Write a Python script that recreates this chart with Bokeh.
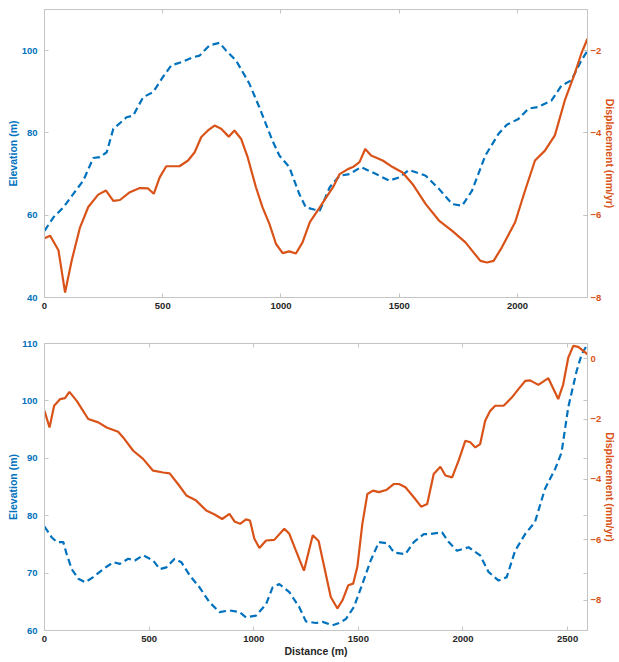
from bokeh.plotting import figure
from bokeh.models import LinearAxis, Range1d, FixedTicker, CustomJSTickFormatter
from bokeh.layouts import column
from bokeh.embed import file_html
from bokeh.resources import INLINE

# ---- Profile 1 -------------------------------------------------------------
p1_elev_x = [0, 38, 80, 122, 164, 206, 234, 263, 291, 347, 375, 417, 459, 501,
             536, 578, 628, 656, 698, 740, 768, 810, 866, 908, 964, 993, 1035,
             1077, 1105, 1140, 1164, 1206, 1248, 1290, 1339, 1402, 1458, 1500,
             1542, 1612, 1668, 1724, 1766, 1808, 1864, 1920, 1955, 2004, 2046,
             2088, 2144, 2186, 2228, 2270, 2296]
p1_elev = [56.2, 59.5, 61.9, 65.2, 68.4, 73.9, 74.1, 75.3, 81.0, 83.8, 84.2,
           88.7, 89.9, 93.6, 96.4, 97.2, 98.4, 98.8, 101.3, 101.9, 100.0, 97.6,
           92.0, 86.3, 78.1, 74.5, 71.7, 65.2, 61.9, 61.4, 61.1, 66.8, 69.6,
           70.0, 71.7, 70.0, 68.4, 69.2, 71.0, 69.6, 66.4, 62.7, 62.3, 66.0,
           74.5, 79.8, 82.0, 83.4, 85.9, 86.3, 87.9, 91.5, 92.8, 97.6, 100.0]

p1_disp_x = [0, 24, 59, 87, 115, 150, 185, 227, 260, 291, 319, 361, 403, 438,
             462, 487, 515, 571, 607, 635, 663, 691, 719, 747, 779, 803, 831,
             859, 894, 922, 951, 979, 1007, 1035, 1063, 1091, 1122, 1164, 1192,
             1220, 1248, 1283, 1304, 1332, 1356, 1381, 1430, 1472, 1514, 1556,
             1612, 1668, 1724, 1780, 1808, 1843, 1871, 1899, 1934, 1990, 2032,
             2074, 2116, 2158, 2200, 2242, 2270, 2296]
p1_disp = [-6.56, -6.50, -6.85, -7.88, -7.10, -6.30, -5.80, -5.50, -5.40, -5.65,
           -5.63, -5.44, -5.34, -5.35, -5.48, -5.08, -4.81, -4.81, -4.67, -4.47,
           -4.10, -3.94, -3.82, -3.90, -4.09, -3.94, -4.14, -4.59, -5.32, -5.81,
           -6.21, -6.70, -6.92, -6.88, -6.93, -6.66, -6.17, -5.81, -5.56, -5.32,
           -5.00, -4.88, -4.83, -4.71, -4.39, -4.55, -4.67, -4.83, -4.96, -5.24,
           -5.73, -6.13, -6.38, -6.66, -6.86, -7.11, -7.15, -7.11, -6.78, -6.17,
           -5.40, -4.67, -4.43, -4.06, -3.21, -2.56, -2.07, -1.71]

# ---- Profile 2 -------------------------------------------------------------
p2_elev_x = [0, 35, 59, 90, 106, 130, 162, 194, 233, 281, 329, 360, 400, 432,
             471, 519, 551, 582, 622, 654, 694, 741, 789, 836, 884, 932, 963,
             1011, 1059, 1090, 1122, 1170, 1217, 1249, 1297, 1329, 1376, 1408,
             1440, 1479, 1519, 1559, 1598, 1638, 1670, 1725, 1765, 1813, 1844,
             1900, 1932, 1971, 2027, 2082, 2122, 2170, 2209, 2249, 2297, 2344,
             2392, 2440, 2471, 2503, 2543, 2567, 2595]
p2_elev = [78.1, 76.2, 75.4, 75.4, 73.3, 70.7, 69.0, 68.4, 69.3, 70.7, 71.9,
           71.6, 72.5, 72.2, 73.1, 72.2, 70.7, 71.0, 72.5, 71.9, 69.6, 67.5,
           64.9, 63.2, 63.5, 63.2, 62.3, 62.6, 64.6, 67.5, 68.1, 66.7, 64.1,
           61.6, 61.3, 61.5, 60.9, 61.3, 62.0, 64.1, 68.1, 72.2, 75.4, 75.2,
           73.6, 73.3, 75.4, 76.8, 76.8, 77.1, 75.4, 73.9, 74.5, 73.1, 70.2,
           68.7, 69.3, 73.9, 76.8, 78.9, 84.7, 88.1, 91.0, 98.9, 105.2, 108.1,
           109.9]

p2_disp_x = [0, 24, 46, 75, 98, 119, 154, 209, 257, 297, 352, 376, 424, 471,
             519, 567, 598, 638, 678, 725, 773, 813, 849, 884, 908, 935, 963,
             982, 1003, 1027, 1059, 1098, 1146, 1170, 1201, 1220, 1240, 1282,
             1310, 1337, 1368, 1400, 1424, 1452, 1475, 1495, 1519, 1543, 1570,
             1598, 1633, 1670, 1694, 1725, 1765, 1800, 1829, 1860, 1892, 1916,
             1948, 1979, 2011, 2035, 2059, 2082, 2106, 2130, 2154, 2194, 2233,
             2265, 2297, 2321, 2360, 2392, 2408, 2455, 2479, 2503, 2527, 2551,
             2595]
p2_disp = [-1.73, -2.28, -1.56, -1.34, -1.31, -1.10, -1.40, -2.00, -2.11, -2.28,
           -2.42, -2.61, -3.05, -3.32, -3.71, -3.77, -3.80, -4.15, -4.53, -4.70,
           -5.03, -5.16, -5.31, -5.14, -5.39, -5.47, -5.32, -5.36, -5.96, -6.27,
           -6.02, -6.00, -5.63, -5.80, -6.35, -6.68, -7.02, -5.85, -6.04, -6.90,
           -7.89, -8.27, -8.00, -7.50, -7.45, -6.90, -5.47, -4.48, -4.37, -4.42,
           -4.35, -4.15, -4.15, -4.26, -4.59, -4.90, -4.81, -3.82, -3.58, -3.87,
           -3.93, -3.38, -2.72, -2.77, -2.94, -2.83, -2.06, -1.73, -1.56, -1.56,
           -1.29, -1.01, -0.74, -0.72, -0.87, -0.72, -0.65, -1.34, -0.85, 0.03,
           0.42, 0.39, 0.14]

BLUE = "#0072BD"
ORANGE = "#D95319"
AXIS_GREY = "#c4c4c4"
TEXT_DARK = "#262626"
FONT = "Liberation Sans"


def style_axis(ax, color, text_color):
    ax.axis_line_color = color
    ax.major_tick_line_color = color
    ax.major_tick_in = 4
    ax.major_tick_out = 0
    ax.minor_tick_in = 4
    ax.minor_tick_out = 0
    ax.minor_tick_line_color = color
    ax.major_label_text_font = FONT
    ax.major_label_text_font_style = "bold"
    ax.major_label_text_font_size = "9.5px"
    ax.major_label_text_color = text_color
    ax.axis_label_text_font = FONT
    ax.axis_label_text_font_style = "bold"
    ax.axis_label_text_font_size = "10.5px"
    ax.axis_label_text_color = text_color


def panel(ex, ey, dx, dy, x_end, elev_rng, disp_rng, elev_ticks, disp_ticks,
          x_ticks, height, top, bottom, xlabel):
    p = figure(width=619, height=height, output_backend="svg",
               toolbar_location=None, x_range=Range1d(0, x_end),
               y_range=Range1d(*elev_rng), min_border_left=44,
               min_border_right=30, min_border_top=top,
               min_border_bottom=bottom)
    p.grid.visible = False
    p.outline_line_color = AXIS_GREY
    p.background_fill_color = "white"

    p.xaxis.ticker = FixedTicker(ticks=x_ticks)
    p.yaxis.ticker = FixedTicker(ticks=elev_ticks)
    style_axis(p.xaxis[0], AXIS_GREY, TEXT_DARK)
    style_axis(p.yaxis[0], AXIS_GREY, BLUE)
    p.xaxis.major_label_standoff = 5
    p.yaxis.major_label_standoff = 7
    p.yaxis.axis_label = "Elevation (m)"
    p.yaxis.axis_label_standoff = 0
    if xlabel:
        p.xaxis.axis_label = xlabel
        p.xaxis.axis_label_standoff = 0

    # box ticks along the top edge, without labels
    top_ax = LinearAxis(ticker=FixedTicker(ticks=x_ticks),
                        formatter=CustomJSTickFormatter(code="return ''"))
    style_axis(top_ax, AXIS_GREY, TEXT_DARK)
    top_ax.major_label_standoff = 0
    p.add_layout(top_ax, "above")

    # right-hand displacement axis; the minor ticks mirror the elevation ticks
    p.extra_y_ranges = {"disp": Range1d(*disp_rng)}
    e0, e1 = elev_rng
    d0, d1 = disp_rng
    mirrored = [d0 + (t - e0) / (e1 - e0) * (d1 - d0) for t in elev_ticks]
    r_ax = LinearAxis(y_range_name="disp",
                      ticker=FixedTicker(ticks=disp_ticks, minor_ticks=mirrored),
                      axis_label="Displacement (mm/yr)")
    style_axis(r_ax, AXIS_GREY, ORANGE)
    r_ax.major_label_standoff = 3
    r_ax.axis_label_standoff = 0
    p.add_layout(r_ax, "right")

    p.line(ex, ey, line_color=BLUE, line_width=2.2, line_dash="7 4")
    p.line(dx, dy, line_color=ORANGE, line_width=2.2, y_range_name="disp")
    return p


top = panel(p1_elev_x, p1_elev, p1_disp_x, p1_disp, 2296, (40, 110), (-8, -1),
            [40, 60, 80, 100], [-8, -6, -4, -2], [0, 500, 1000, 1500, 2000],
            320, 9, 23, None)
bottom = panel(p2_elev_x, p2_elev, p2_disp_x, p2_disp, 2595, (60, 110),
               (-9, 0.5), [60, 70, 80, 90, 100, 110], [-8, -6, -4, -2, 0],
               [0, 500, 1000, 1500, 2000, 2500], 342, 23, 32, "Distance (m)")

layout = column(top, bottom)
open("out.html", "w").write(file_html(layout, INLINE))
